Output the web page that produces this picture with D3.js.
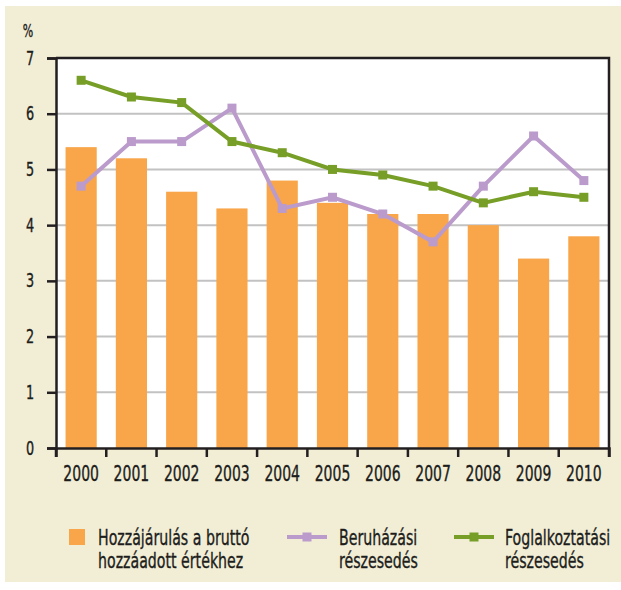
<!DOCTYPE html>
<html>
<head>
<meta charset="utf-8">
<script src="https://cdn.jsdelivr.net/npm/d3@7"></script>
<style>
  body { margin: 0; background: #fff; }
  text { font-family: "DejaVu Sans Condensed", "Liberation Sans Narrow", sans-serif; fill: #1d1d1b; stroke: #1d1d1b; stroke-width: 0.35px; }
</style>
</head>
<body>
<div id="chart"></div>
<script>
// years on the x axis
const years = ["2000", "2001", "2002", "2003", "2004", "2005", "2006", "2007", "2008", "2009", "2010"];
// bars: Hozzájárulás a bruttó hozzáadott értékhez
const hozzajarulas = [5.4, 5.2, 4.6, 4.3, 4.8, 4.4, 4.2, 4.2, 4.0, 3.4, 3.8];
// purple line: Beruházási részesedés
const beruhazasi = [4.7, 5.5, 5.5, 6.1, 4.3, 4.5, 4.2, 3.7, 4.7, 5.6, 4.8];
// green line: Foglalkoztatási részesedés
const foglalkoztatasi = [6.6, 6.3, 6.2, 5.5, 5.3, 5.0, 4.9, 4.7, 4.4, 4.6, 4.5];
const yTicks = [0, 1, 2, 3, 4, 5, 6, 7];

const width = 621, height = 590;
const margin = { top: 58, right: 12, bottom: 142, left: 56 };
const plotW = width - margin.left - margin.right;
const plotH = height - margin.top - margin.bottom;

const svg = d3.select("#chart").append("svg")
    .attr("width", width)
    .attr("height", height);

// beige panel
svg.append("rect")
    .attr("x", 5).attr("y", 6)
    .attr("width", width - 5).attr("height", 576)
    .attr("fill", "#f2eed6");

const g = svg.append("g").attr("transform", `translate(${margin.left},${margin.top})`);

const x = d3.scaleBand().domain(years).range([0, plotW]).paddingInner(0.38).paddingOuter(0.19);
const xTick = d3.scaleBand().domain(years).range([0, plotW]);
const y = d3.scaleLinear().domain([0, 7]).range([plotH, 0]);

// white plot area
g.append("rect").attr("width", plotW).attr("height", plotH).attr("fill", "#fff");

// grid lines
g.selectAll(".grid").data(yTicks.slice(1, -1)).enter().append("line")
    .attr("x1", 0).attr("x2", plotW)
    .attr("y1", d => y(d)).attr("y2", d => y(d))
    .attr("stroke", "#c2c2c2").attr("stroke-width", 2);

// bars
g.selectAll(".bar").data(hozzajarulas).enter().append("rect")
    .attr("x", (d, i) => x(years[i]))
    .attr("y", d => y(d))
    .attr("width", x.bandwidth())
    .attr("height", d => plotH - y(d))
    .attr("fill", "#f9a64a");

// frame top and right
g.append("path")
    .attr("d", `M0,0H${plotW}V${plotH}`)
    .attr("fill", "none").attr("stroke", "#231f20").attr("stroke-width", 2.5);

// line series
const line = d3.line()
    .x((d, i) => x(years[i]) + x.bandwidth() / 2)
    .y(d => y(d));

function drawSeries(values, color) {
    g.append("path").datum(values)
        .attr("d", line)
        .attr("fill", "none")
        .attr("stroke", color)
        .attr("stroke-width", 4)
        .attr("stroke-linejoin", "miter");
    g.selectAll(null).data(values).enter().append("rect")
        .attr("x", (d, i) => x(years[i]) + x.bandwidth() / 2 - 4.5)
        .attr("y", d => y(d) - 4.5)
        .attr("width", 9).attr("height", 9)
        .attr("fill", color);
}
drawSeries(beruhazasi, "#ba9bcb");
drawSeries(foglalkoztatasi, "#779e26");

// y axis
const yAxis = g.append("g")
    .call(d3.axisLeft(y).tickValues(yTicks).tickSize(9).tickFormat(""));
yAxis.select(".domain").attr("stroke", "#231f20").attr("stroke-width", 2.5);
yAxis.selectAll("line").attr("stroke", "#231f20").attr("stroke-width", 2.5);

g.selectAll(".ylab").data(yTicks).enter().append("text")
    .attr("transform", d => `translate(-26,${y(d) + 6.5}) scale(0.75,1)`)
    .attr("text-anchor", "middle")
    .style("font-size", "19px")
    .text(d => d);

svg.append("text")
    .attr("transform", "translate(28,37) scale(0.72,1)")
    .attr("text-anchor", "middle")
    .style("font-size", "17px")
    .text("%");

// x axis
const xAxis = g.append("g").attr("transform", `translate(0,${plotH})`)
    .call(d3.axisBottom(xTick).tickSize(9).tickFormat(""));
xAxis.select(".domain").attr("stroke", "#231f20").attr("stroke-width", 2.5);
xAxis.selectAll(".tick").attr("transform", d => `translate(${xTick(d)},0)`);
xAxis.append("line").attr("x1", plotW).attr("x2", plotW).attr("y1", 0).attr("y2", 9)
    .attr("stroke", "#231f20").attr("stroke-width", 2.5);
xAxis.selectAll("line").attr("stroke", "#231f20").attr("stroke-width", 2.5);

g.selectAll(".xlab").data(years).enter().append("text")
    .attr("transform", d => `translate(${x(d) + x.bandwidth() / 2},${plotH + 33}) scale(0.74,1)`)
    .attr("text-anchor", "middle")
    .style("font-size", "21px")
    .text(d => d);

// legend
const legendY = 537;
const leg = svg.append("g");

leg.append("rect").attr("x", 69).attr("y", legendY - 8).attr("width", 16).attr("height", 16).attr("fill", "#f9a64a");

function legendLine(x0, color) {
    leg.append("line").attr("x1", x0).attr("x2", x0 + 40).attr("y1", legendY).attr("y2", legendY)
        .attr("stroke", color).attr("stroke-width", 4);
    leg.append("rect").attr("x", x0 + 15.5).attr("y", legendY - 4.5).attr("width", 9).attr("height", 9).attr("fill", color);
}
legendLine(287, "#ba9bcb");
legendLine(454, "#779e26");

const legendTexts = [
    { x: 98, lines: ["Hozzájárulás a bruttó", "hozzáadott értékhez"] },
    { x: 339, lines: ["Beruházási", "részesedés"] },
    { x: 505, lines: ["Foglalkoztatási", "részesedés"] }
];
legendTexts.forEach(t => {
    t.lines.forEach((s, i) => {
        leg.append("text")
            .attr("transform", `translate(${t.x},${legendY + 8 + i * 23}) scale(0.75,1)`)
            .style("font-size", "21px")
            .text(s);
    });
});
</script>
</body>
</html>
